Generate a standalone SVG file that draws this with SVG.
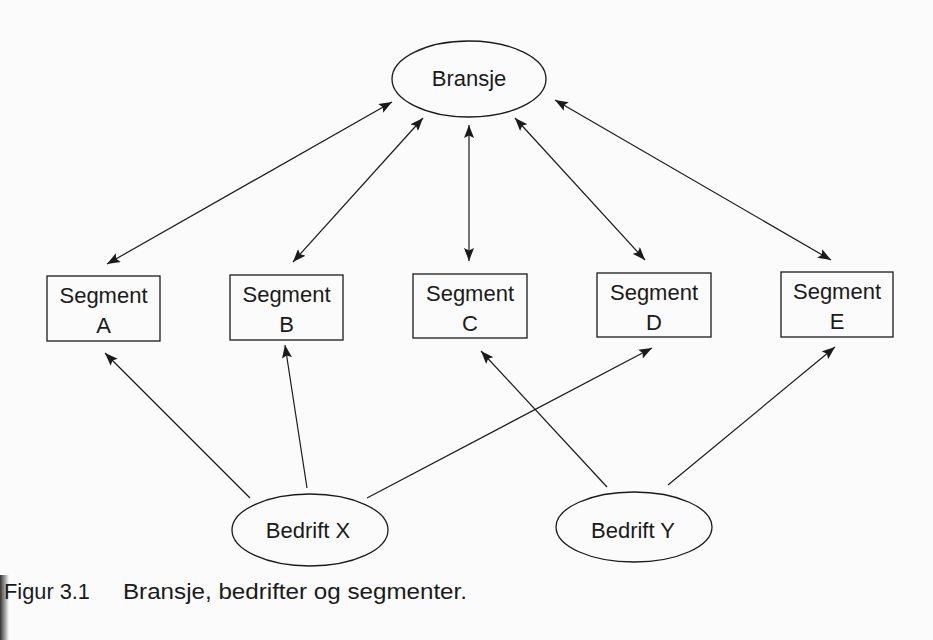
<svg xmlns="http://www.w3.org/2000/svg" width="933" height="640" viewBox="0 0 933 640">
  <style>
    .shape { fill: none; stroke: #1a1a1a; stroke-width: 1.3; }
    .lbl { font-family: "Liberation Sans", Arial, sans-serif; font-size: 22px; fill: #1a1a1a; text-anchor: middle; }
    .conn line { stroke: #1a1a1a; stroke-width: 1.2; }
    .cap { font-family: "Liberation Sans", Arial, sans-serif; font-size: 22px; fill: #1a1a1a; }
  </style>
  <defs>
    <marker id="ah" viewBox="0 0 13 10" refX="13" refY="5" markerWidth="13" markerHeight="10" markerUnits="userSpaceOnUse" orient="auto-start-reverse">
      <path d="M0,0 L13,5 L0,10 L2.5,5 Z" fill="#1a1a1a"/>
    </marker>
    <linearGradient id="edge" x1="0" y1="0" x2="1" y2="0">
      <stop offset="0" stop-color="#333"/>
      <stop offset="1" stop-color="#333" stop-opacity="0"/>
    </linearGradient>
  </defs>
  <rect width="933" height="640" fill="#fbfbfb"/>
  <rect x="0" y="575" width="9" height="65" fill="url(#edge)"/>

  <g id="connectors" class="conn">
    <line x1="107" y1="264" x2="392" y2="102" marker-start="url(#ah)" marker-end="url(#ah)"/>
    <line x1="293" y1="262" x2="423" y2="118" marker-start="url(#ah)" marker-end="url(#ah)"/>
    <line x1="469" y1="261" x2="469" y2="125" marker-start="url(#ah)" marker-end="url(#ah)"/>
    <line x1="645" y1="260" x2="515" y2="118" marker-start="url(#ah)" marker-end="url(#ah)"/>
    <line x1="831" y1="260" x2="555" y2="100" marker-start="url(#ah)" marker-end="url(#ah)"/>
    <line x1="250" y1="498" x2="105" y2="353" marker-end="url(#ah)"/>
    <line x1="307" y1="488" x2="285" y2="345" marker-end="url(#ah)"/>
    <line x1="367" y1="498" x2="652" y2="348" marker-end="url(#ah)"/>
    <line x1="607" y1="487" x2="481" y2="351" marker-end="url(#ah)"/>
    <line x1="668" y1="485" x2="835" y2="347" marker-end="url(#ah)"/>
  </g>

  <g id="bransje">
    <ellipse class="shape" cx="469" cy="79" rx="77" ry="38"/>
    <text class="lbl" x="469" y="86">Bransje</text>
  </g>

  <g id="segment-a">
    <rect class="shape" x="47" y="276" width="113" height="65"/>
    <text class="lbl" x="103.5" y="303">Segment</text>
    <text class="lbl" x="103.5" y="333">A</text>
  </g>
  <g id="segment-b">
    <rect class="shape" x="230" y="275" width="113" height="65"/>
    <text class="lbl" x="286.5" y="302">Segment</text>
    <text class="lbl" x="286.5" y="332">B</text>
  </g>
  <g id="segment-c">
    <rect class="shape" x="413" y="274" width="114" height="64"/>
    <text class="lbl" x="470" y="301">Segment</text>
    <text class="lbl" x="470" y="331">C</text>
  </g>
  <g id="segment-d">
    <rect class="shape" x="597" y="273" width="114" height="64"/>
    <text class="lbl" x="654" y="300">Segment</text>
    <text class="lbl" x="654" y="330">D</text>
  </g>
  <g id="segment-e">
    <rect class="shape" x="781" y="272" width="112" height="65"/>
    <text class="lbl" x="837" y="299">Segment</text>
    <text class="lbl" x="837" y="329">E</text>
  </g>

  <g id="bedrift-x">
    <ellipse class="shape" cx="310" cy="530" rx="78" ry="36"/>
    <text class="lbl" x="308" y="538">Bedrift X</text>
  </g>
  <g id="bedrift-y">
    <ellipse class="shape" cx="634" cy="527" rx="78" ry="35"/>
    <text class="lbl" x="633" y="538">Bedrift Y</text>
  </g>

  <g id="caption">
    <text class="cap" x="4" y="599" textLength="86" lengthAdjust="spacingAndGlyphs">Figur 3.1</text>
    <text class="cap" x="123" y="599" textLength="344" lengthAdjust="spacingAndGlyphs">Bransje, bedrifter og segmenter.</text>
  </g>
</svg>
